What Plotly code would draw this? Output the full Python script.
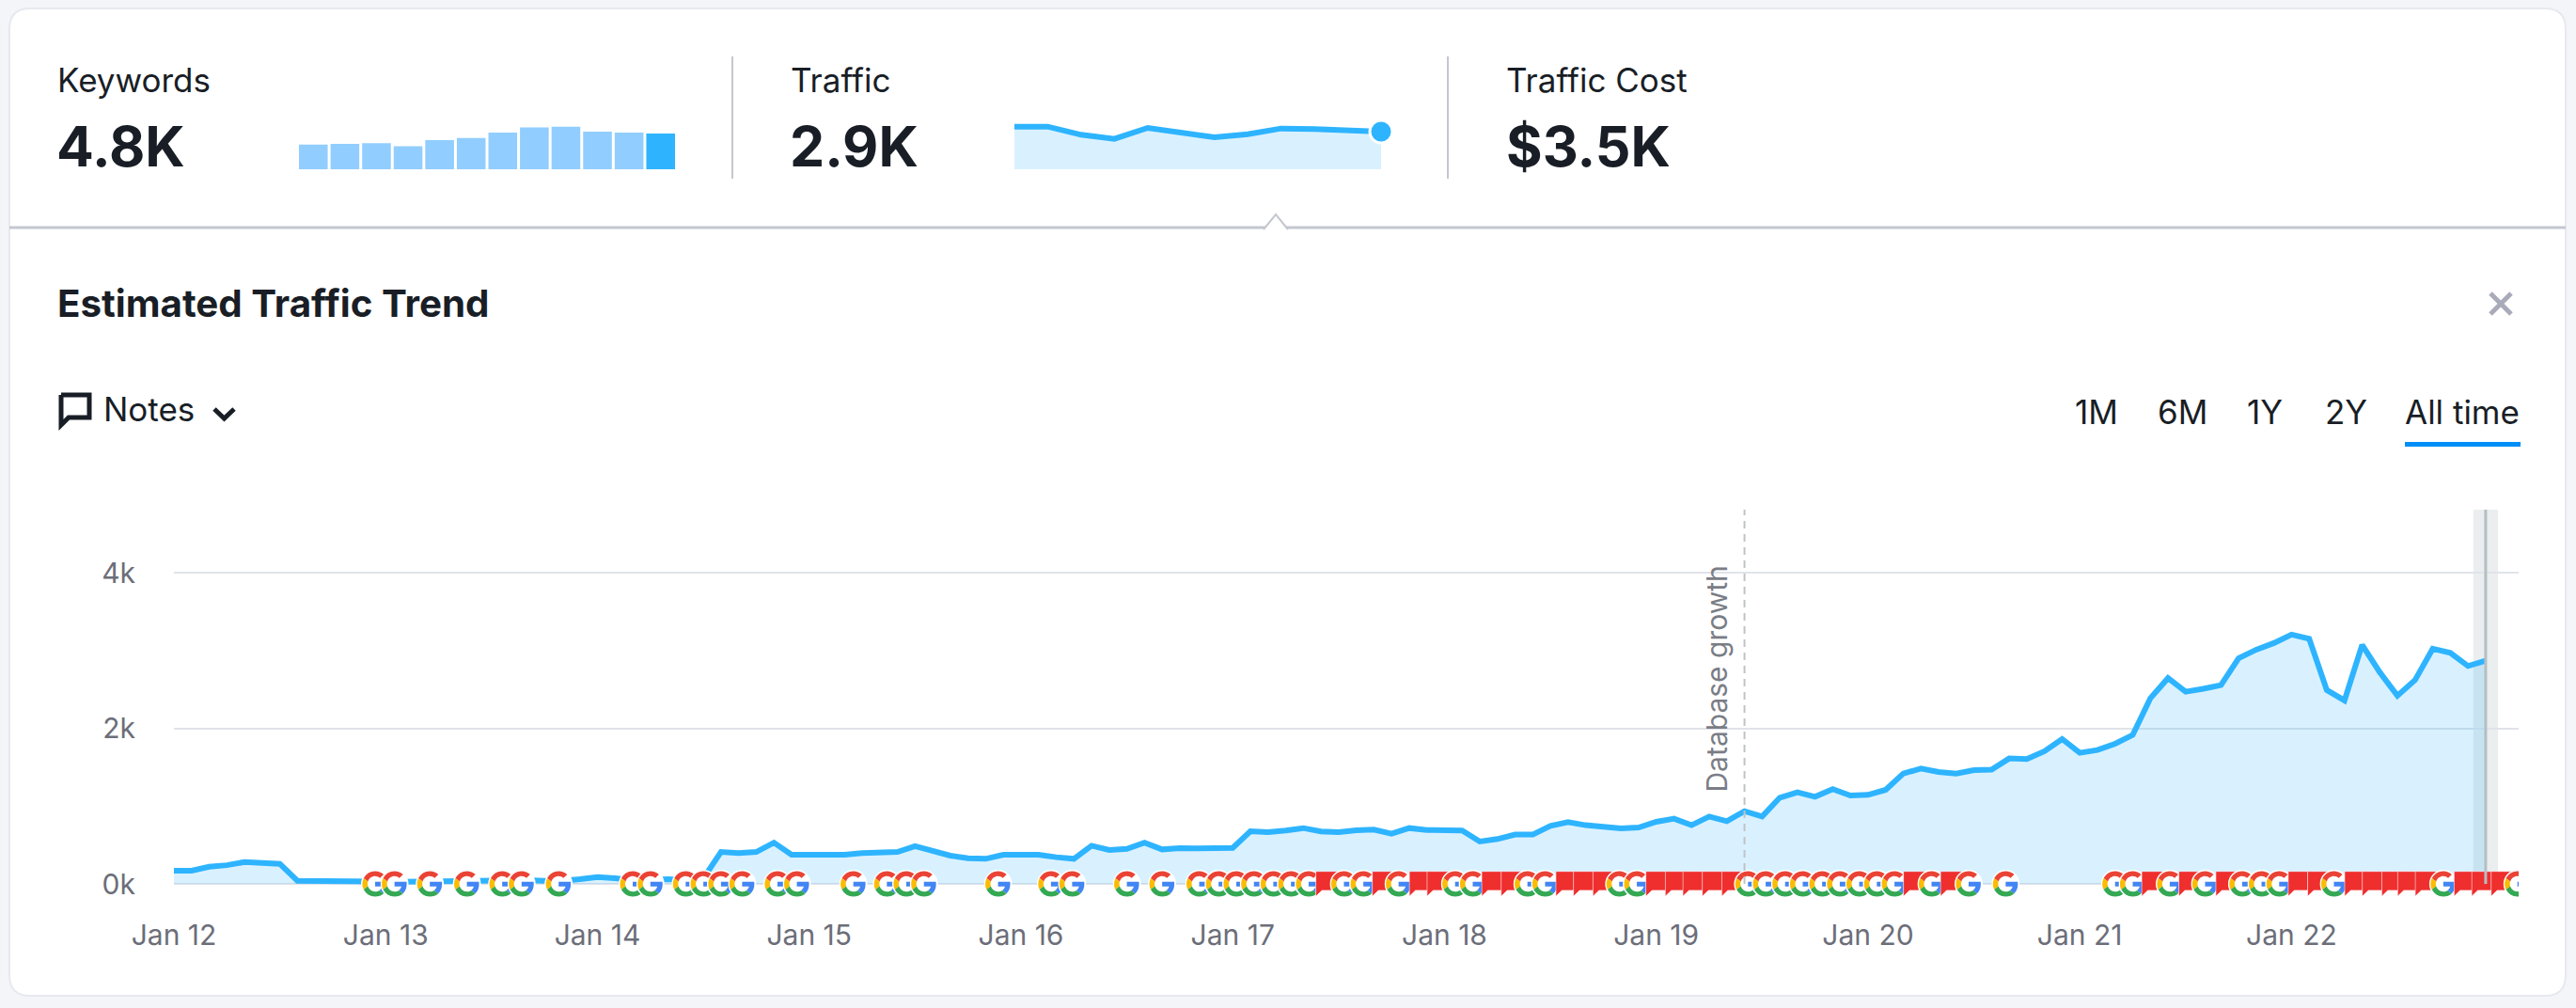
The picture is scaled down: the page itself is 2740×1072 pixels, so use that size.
import base64
import plotly.graph_objects as go

W, H = 2740, 1072

# monthly estimated traffic, Jan 12 to Dec 22
traffic = [170, 170, 220, 240, 280, 262, 258, 40, 36, 32, 28, 20,
           25, 28, 30, 35, 40, 48, 50, 50, 48, 40, 40, 60,
           88, 72, 48, 48, 60, 48, 70, 410, 395, 410, 530, 375,
           375, 375, 375, 395, 403, 410, 484, 420, 363, 330, 322, 375,
           375, 375, 343, 322, 490, 435, 450, 530, 443, 460, 455, 455,
           463, 677, 665, 685, 717, 673, 665, 690, 697, 645, 717, 693,
           693, 685, 544, 576, 633, 633, 745, 794, 754, 725, 713, 725,
           798, 838, 754, 866, 806, 935, 866, 1108, 1177, 1120, 1217, 1136,
           1144, 1209, 1418, 1483, 1438, 1418, 1463, 1467, 1612, 1604, 1705, 1862,
           1684, 1720, 1801, 1914, 2386, 2644, 2470, 2507, 2555, 2900, 3010, 3095,
           3204, 3151, 2490, 2357, 3070, 2720, 2418, 2620, 3022, 2970, 2800, 2869]
year_labels = ["Jan 12", "Jan 13", "Jan 14", "Jan 15", "Jan 16", "Jan 17",
               "Jan 18", "Jan 19", "Jan 20", "Jan 21", "Jan 22"]
y_ticks = [0, 2000, 4000]
y_labels = ["0k", "2k", "4k"]

# events, in months since Jan 12
google_updates = [11.4, 12.5, 14.5, 16.6, 18.6, 19.7, 21.8, 26, 27, 29, 30, 31, 32.2, 34.2, 35.3,
                  38.5, 40.4, 41.5, 42.5, 46.7, 49.7, 50.9, 54, 56, 58.1, 59.2, 60.2, 61.2, 62.3,
                  63.3, 64.3, 66.3, 67.4, 69.4, 72.6, 73.6, 76.7, 77.7, 81.9, 82.9, 89.2, 90.2,
                  91.3, 92.3, 93.4, 94.4, 95.5, 96.5, 97.5, 99.6, 101.7, 103.8, 110, 111, 113.1,
                  115.1, 117.2, 118.3, 119.3, 122.4, 128.6, 132.8]
flag_events = [65.4, 68.6, 70.7, 71.7, 74.8, 75.9, 79, 80, 81.1, 84.1, 85.2, 86.2, 87.3, 88.4,
               98.7, 100.8, 112.2, 114.3, 116.4, 120.5, 121.6, 123.7, 124.7, 125.8, 126.7,
               127.7, 129.9, 130.9, 132]
database_growth_month = 89
current_month = 131

# small charts in the header
keywords_bars = [3300, 3400, 3500, 3100, 3900, 4200, 4900, 5600, 5700, 5050, 4900, 4800]
traffic_spark = [3287, 3287, 2658, 2344, 3190, 2852, 2465, 2707, 3142, 3093, 2948, 2900]

BLUE = "#2eb4ff"
LIGHT_BLUE = "#91ceff"
FILL = "rgba(46,180,255,0.18)"
DARK = "#191e26"
GRAY = "#6c6e79"
GRID = "#e1e3ea"
RULE = "#c4c7cf"


def px(x):
    return x / W


def py(y):
    return 1 - y / H


def svg_uri(svg):
    return "data:image/svg+xml;base64," + base64.b64encode(svg.encode()).decode()


g_icon = svg_uri(
    '<svg xmlns="http://www.w3.org/2000/svg" width="216" height="216" viewBox="-3 -3 54 54">'
    '<circle cx="24" cy="24" r="26.5" fill="#fff"/>'
    '<path fill="#EA4335" d="M24 9.5c3.54 0 6.71 1.22 9.21 3.6l6.85-6.85C35.9 2.38 30.47 0 24 0 14.62 0 6.51 5.38 2.56 13.22l7.98 6.19C12.43 13.72 17.74 9.5 24 9.5z"/>'
    '<path fill="#4285F4" d="M46.98 24.55c0-1.57-.15-3.09-.38-4.55H24v9.02h12.94c-.58 2.96-2.26 5.48-4.78 7.18l7.73 6c4.51-4.18 7.09-10.36 7.09-17.65z"/>'
    '<path fill="#FBBC05" d="M10.53 28.59c-.48-1.45-.76-2.99-.76-4.59s.27-3.14.76-4.59l-7.98-6.19C.92 16.46 0 20.12 0 24c0 3.88.92 7.54 2.56 10.78l7.97-6.19z"/>'
    '<path fill="#34A853" d="M24 48c6.48 0 11.93-2.13 15.89-5.81l-7.73-6c-2.15 1.45-4.92 2.3-8.16 2.3-6.26 0-11.57-4.22-13.47-9.91l-7.98 6.19C6.51 42.62 14.62 48 24 48z"/>'
    '</svg>')
flag_icon = svg_uri(
    '<svg xmlns="http://www.w3.org/2000/svg" width="216" height="216" viewBox="0 0 27 27">'
    '<path d="M0.5 0.2H26.5V20.5H7L0.5 26.8Z" fill="#ef2e2e" stroke="#fff" stroke-width="0.7"/>'
    '</svg>')

fig = go.Figure()

# main trend
months = list(range(len(traffic)))
fig.add_trace(go.Scatter(x=months, y=traffic, mode="lines", fill="tozeroy", fillcolor=FILL,
                         line=dict(color=BLUE, width=6), hoverinfo="skip"))

# keywords bars
bar_colors = [LIGHT_BLUE] * (len(keywords_bars) - 1) + [BLUE]
fig.add_trace(go.Bar(x=list(range(len(keywords_bars))), y=keywords_bars, marker_color=bar_colors,
                     marker_line_width=0, xaxis="x2", yaxis="y2", hoverinfo="skip"))

# traffic sparkline
spark_x = list(range(len(traffic_spark)))
fig.add_trace(go.Scatter(x=spark_x, y=traffic_spark, mode="lines", fill="tozeroy", fillcolor=FILL,
                         line=dict(color=BLUE, width=6), xaxis="x3", yaxis="y3", hoverinfo="skip"))
fig.add_trace(go.Scatter(x=spark_x[-1:], y=traffic_spark[-1:], mode="markers",
                         marker=dict(color=BLUE, size=24, line=dict(color="white", width=3)),
                         xaxis="x3", yaxis="y3", cliponaxis=False, hoverinfo="skip"))

# icons sit on the zero line, later ones cover earlier ones
events = [(m, g_icon, 30.5) for m in google_updates] + [(m, flag_icon, 27) for m in flag_events]
images = [dict(source=src, x=m, y=0, xref="x", yref="y", xanchor="center", yanchor="middle",
               sizex=size / 18.77, sizey=size / 165.5 * 2000, sizing="stretch", layer="above")
          for m, src, size in sorted(events, key=lambda e: e[0])]


def paper_line(x0, y0, x1, y1, color, width):
    return dict(type="line", xref="paper", yref="paper", x0=px(x0), y0=py(y0), x1=px(x1), y1=py(y1),
                line=dict(color=color, width=width), layer="below")


def paper_path(points, color, width, fill="rgba(0,0,0,0)"):
    d = "M" + " L".join(f"{px(x):.5f},{py(y):.5f}" for x, y in points)
    return dict(type="path", xref="paper", yref="paper", path=d, fillcolor=fill,
                line=dict(color=color, width=width), layer="below")


# white card with rounded corners
cx0, cy0, cx1, cy1, r = 10, 9, 2729, 1059, 22
card_path = (f"M{px(cx0 + r)},{py(cy0)} L{px(cx1 - r)},{py(cy0)} Q{px(cx1)},{py(cy0)} {px(cx1)},{py(cy0 + r)} "
             f"L{px(cx1)},{py(cy1 - r)} Q{px(cx1)},{py(cy1)} {px(cx1 - r)},{py(cy1)} "
             f"L{px(cx0 + r)},{py(cy1)} Q{px(cx0)},{py(cy1)} {px(cx0)},{py(cy1 - r)} "
             f"L{px(cx0)},{py(cy0 + r)} Q{px(cx0)},{py(cy0)} {px(cx0 + r)},{py(cy0)} Z")
shapes = [dict(type="path", xref="paper", yref="paper", path=card_path, fillcolor="white",
               line=dict(color="#e7e9ef", width=2), layer="below")]
shapes += [
    paper_line(779, 60, 779, 190, RULE, 2),
    paper_line(1540, 60, 1540, 190, RULE, 2),
    paper_line(cx0, 242, cx1, 242, RULE, 3),
    paper_path([(1344, 244), (1357, 228), (1370, 244)], RULE, 2, "white"),
    # close icon
    paper_line(2649, 312, 2671, 334, "#a9abb9", 5),
    paper_line(2671, 312, 2649, 334, "#a9abb9", 5),
    # notes icon and chevron
    paper_path([(65, 420), (95, 420), (95, 444), (73, 444), (65, 452), (65, 420)], DARK, 5),
    paper_path([(228, 435), (238.5, 445), (249, 435)], DARK, 5),
    # active range underline
    paper_line(2558, 472.5, 2681, 472.5, "#008ff8", 5),
]
# current month highlight and database growth marker
shapes += [
    dict(type="rect", xref="x", yref="y", x0=current_month - 0.7, x1=current_month + 0.7, y0=0, y1=4810,
         fillcolor="rgba(150,170,175,0.2)", line_width=0, layer="below"),
    dict(type="line", xref="x", yref="y", x0=current_month, x1=current_month, y0=0, y1=4810,
         line=dict(color="#b5bfc3", width=3), layer="above"),
    dict(type="line", xref="x", yref="y", x0=database_growth_month, x1=database_growth_month, y0=0, y1=4810,
         line=dict(color="#bfc3c6", width=2, dash="8px,6px"), layer="above"),
]


def label(text, x, y, size, weight=400, color=DARK):
    return dict(text=text, x=px(x), y=py(y), xref="paper", yref="paper", xanchor="left", yanchor="middle",
                showarrow=False, borderpad=0, font=dict(family="Inter", size=size, color=color, weight=weight))


annotations = [
    label("Keywords", 60, 85, 35),
    label("4.8K", 59, 155, 59, 700),
    label("Traffic", 840, 85, 35),
    label("2.9K", 839, 155, 59, 700),
    label("Traffic Cost", 1601, 85, 35),
    label("$3.5K", 1601, 155, 59, 700),
    label("Estimated Traffic Trend", 60, 322, 40.3, 700),
    label("Notes", 109, 435, 35),
    label("1M", 2206, 438, 35),
    label("6M", 2294, 438, 35),
    label("1Y", 2389, 438, 35),
    label("2Y", 2472, 438, 35),
    label("All time", 2557, 438, 35),
    dict(text="Database growth", x=database_growth_month, y=py(722), xref="x", yref="paper", xshift=-30,
         xanchor="center", yanchor="middle", textangle=-90, showarrow=False,
         font=dict(family="Inter", size=30, color="#7a7d85")),
]

fig.update_layout(
    width=W, height=H, margin=dict(l=0, r=0, t=0, b=0, autoexpand=False), autosize=False,
    paper_bgcolor="#f4f5f9", plot_bgcolor="rgba(0,0,0,0)", showlegend=False,
    font=dict(family="Inter", size=26, color=GRAY),
    bargap=0.09, shapes=shapes, annotations=annotations, images=images,
    xaxis=dict(domain=[px(185), px(2679)], range=[0, 132.87], showgrid=False, zeroline=False, showline=False,
               automargin=False, tickmode="array", tickvals=[i * 12 for i in range(len(year_labels))],
               ticktext=year_labels, ticks="outside", ticklen=8, tickcolor="rgba(0,0,0,0)",
               tickfont=dict(size=30, color=GRAY)),
    yaxis=dict(domain=[py(960), py(542)], range=[-241.7, 4809.7], showgrid=True, gridcolor=GRID, gridwidth=2,
               zeroline=False, showline=False, automargin=False, tickmode="array", tickvals=y_ticks,
               ticktext=y_labels, ticks="outside", ticklen=34, tickcolor="rgba(0,0,0,0)",
               tickfont=dict(size=30, color=GRAY)),
    xaxis2=dict(domain=[px(316.5), px(719.5)], range=[-0.5, 11.5], visible=False, anchor="y2"),
    yaxis2=dict(domain=[py(180), py(130)], range=[0, 6300], visible=False, anchor="x2"),
    xaxis3=dict(domain=[px(1079), px(1469)], range=[0, 11], visible=False, anchor="y3"),
    yaxis3=dict(domain=[py(180), py(130)], range=[0, 3625], visible=False, anchor="x3"),
)

fig.write_html("out.html", config=dict(displayModeBar=False),
               post_script="document.body.style.margin='0';document.body.style.overflow='hidden';")
